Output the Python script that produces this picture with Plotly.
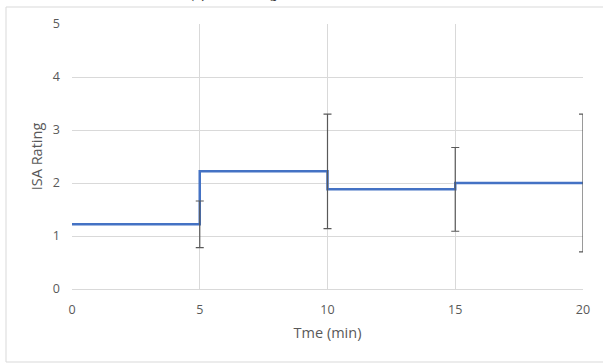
import plotly.graph_objects as go

# Data
time_min = [0, 5, 10, 15, 20]
isa_rating = [1.22, 1.22, 2.22, 1.88, 2.0]
err_time = [5, 10, 15, 20]
err_center = [1.22, 2.22, 1.88, 2.0]
err_size = [0.44, 1.08, 0.79, 1.3]
x_ticks = [0, 5, 10, 15, 20]
y_ticks = [0, 1, 2, 3, 4, 5]

fig = go.Figure()
fig.add_trace(go.Scatter(
    x=time_min, y=isa_rating, mode="lines", line_shape="vh",
    line=dict(color="#4472C4", width=2.5), showlegend=False, hoverinfo="skip"))
fig.add_trace(go.Scatter(
    x=err_time, y=err_center, mode="markers",
    marker=dict(color="rgba(0,0,0,0)", size=1),
    error_y=dict(type="data", array=err_size, visible=True, color="#595959",
                 thickness=1.2, width=4),
    showlegend=False, hoverinfo="skip", cliponaxis=False))

L, T = 72, 24
W, H = 603, 363
PW, PH = 511, 265

def px2x(px):
    return (px - L) / PW

def py2y(py):
    return (T + PH - py) / PH

fig.add_shape(type="rect", xref="paper", yref="paper",
              x0=px2x(6), x1=px2x(610), y0=py2y(362), y1=py2y(7),
              line=dict(color="#d9d9d9", width=1), layer="below")

fig.add_annotation(text="(b) ISA Rating with Associated Error", xref="paper", yref="paper",
                   x=px2x(300), y=py2y(4), xanchor="center", yanchor="bottom",
                   showarrow=False, font=dict(family="Liberation Serif", size=15, color="#000000"))

tick_font = dict(family="Open Sans", size=12.5, color="#595959")
title_font = dict(family="Open Sans", size=14.5, color="#595959")
fig.update_layout(
    width=W, height=H, autosize=False,
    margin=dict(l=L, r=W - L - PW, t=T, b=H - T - PH),
    paper_bgcolor="white", plot_bgcolor="white",
    font=tick_font,
    xaxis=dict(range=[0, 20], tickvals=x_ticks, showgrid=True, gridcolor="#d9d9d9",
               gridwidth=1, zeroline=False, showline=True, linecolor="#d9d9d9",
               ticks="", ticklabelstandoff=9, tickfont=tick_font,
               title=dict(text="Tme (min)", font=title_font, standoff=10)),
    yaxis=dict(range=[0, 5], tickvals=y_ticks, showgrid=True, gridcolor="#d9d9d9",
               gridwidth=1, zeroline=False, showline=False,
               ticks="", ticklabelstandoff=11, tickfont=tick_font,
               title=dict(text="ISA Rating", font=title_font, standoff=6)),
)

fig.write_html("out.html")
